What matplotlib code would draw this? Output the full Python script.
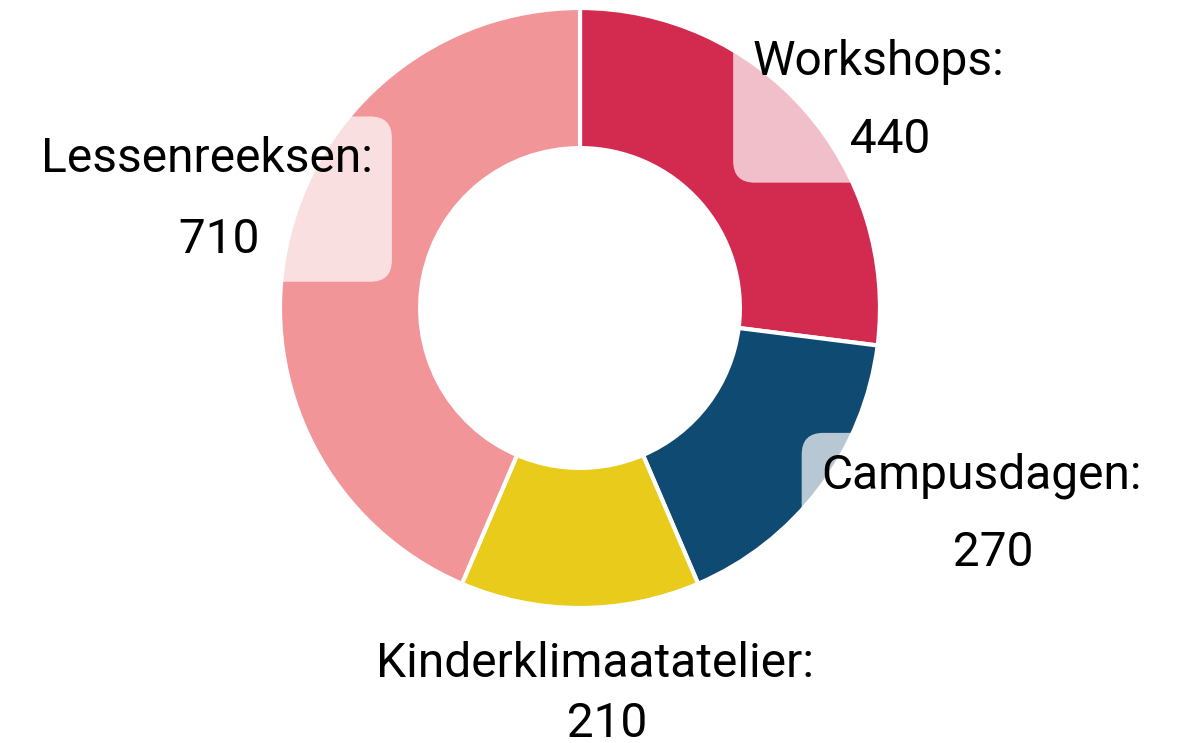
import numpy as np
import matplotlib
matplotlib.use('Agg')
import matplotlib.pyplot as plt

plt.rcParams['font.family'] = ['Roboto', 'DejaVu Sans']

categories = ['Workshops', 'Campusdagen', 'Kinderklimaatatelier', 'Lessenreeksen']
values = [440, 270, 210, 710]
colors = ['#D32B4F', '#0F4A72', '#E8CB1B', '#F19599']

# label layout: (radius, angle nudge in degrees, line spacing)
label_layout = [(1.2095, 6.68, 1.9), (1.5032, -9.8, 1.85), (1.288, -2.22, 1.41), (1.2959, 4.67, 1.97)]

fig = plt.figure(figsize=(11.82, 7.43), dpi=100)
ax = fig.add_axes([0, 0, 1, 1])

wedges, _ = ax.pie(values, radius=1, startangle=90, counterclock=False, colors=colors,
                   wedgeprops=dict(width=0.467, edgecolor='white', linewidth=3))

# pie() resets the limits, so set them afterwards (300 px per unit)
ax.set_aspect('auto')
ax.set_xlim(-580 / 300, 602 / 300)
ax.set_ylim(-435 / 300, 308 / 300)
ax.axis('off')

total = sum(values)
start = 0
for name, val, (r, nudge, ls) in zip(categories, values, label_layout):
    mid = (start + val / 2) / total * 360
    start += val
    a = np.radians(mid + nudge)
    # the value line sits a little right of centre in the original
    ax.text(r * np.sin(a), r * np.cos(a), f'{name}:\n  {val}', ha='center', va='center',
            multialignment='center', fontsize=34.5, linespacing=ls, color='black', zorder=5,
            bbox=dict(boxstyle='round,pad=0.4,rounding_size=0.45', fc='white', alpha=0.7, ec='none'))

fig.savefig('out.png', dpi=100)
